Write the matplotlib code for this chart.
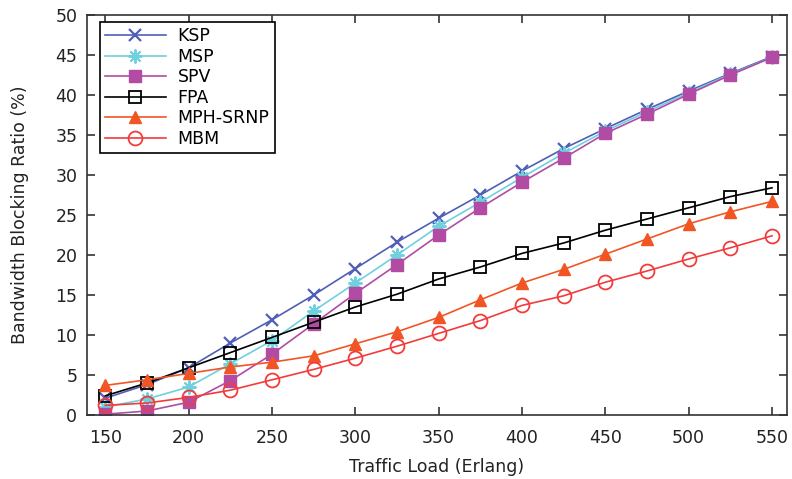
import numpy as np
import matplotlib
matplotlib.use("Agg")
import matplotlib.pyplot as plt

# traffic load (Erlang)
load = [150, 175, 200, 225, 250, 275, 300, 325, 350, 375, 400, 425, 450, 475, 500, 525, 550]

# bandwidth blocking ratio (%)
ksp = [2.1, 3.8, 5.9, 9.0, 11.9, 15.0, 18.3, 21.6, 24.6, 27.5, 30.5, 33.3, 35.8, 38.2, 40.5, 42.7, 44.8]
msp = [1.0, 2.0, 3.5, 6.4, 9.3, 13.0, 16.5, 20.0, 23.6, 26.6, 29.7, 32.7, 35.5, 37.9, 40.3, 42.6, 44.7]
spv = [0.1, 0.5, 1.6, 4.3, 7.6, 11.4, 15.2, 18.8, 22.5, 25.9, 29.1, 32.1, 35.2, 37.6, 40.1, 42.5, 44.7]
fpa = [2.4, 4.0, 5.9, 7.8, 9.7, 11.6, 13.5, 15.1, 17.0, 18.5, 20.2, 21.5, 23.1, 24.5, 25.9, 27.3, 28.4]
mph_srnp = [3.7, 4.4, 5.2, 6.0, 6.6, 7.4, 8.9, 10.4, 12.2, 14.4, 16.5, 18.2, 20.1, 22.0, 23.9, 25.4, 26.7]
mbm = [1.2, 1.5, 2.2, 3.1, 4.4, 5.7, 7.1, 8.6, 10.2, 11.8, 13.7, 14.9, 16.6, 18.0, 19.5, 20.9, 22.4]

xticks = [150, 200, 250, 300, 350, 400, 450, 500, 550]
yticks = [0, 5, 10, 15, 20, 25, 30, 35, 40, 45, 50]

plt.rcParams['font.family'] = 'DejaVu Sans'
fig = plt.figure(figsize=(7.92, 4.79), dpi=100)
ax = fig.add_axes([87 / 792, 64 / 479, 700 / 792, 400 / 479])

lw = 1.2
ax.plot(load, ksp, color='#4f5fb8', lw=lw, marker='x', ms=9, mew=1.6, label='KSP')
ax.plot(load, msp, color='#6fd0de', lw=lw, marker=(8, 2, 0), ms=10, mew=1.4, label='MSP')
ax.plot(load, spv, color='#b24ba3', lw=lw, marker='s', ms=9, mec='#b24ba3', label='SPV')
ax.plot(load, fpa, color='black', lw=lw, marker='s', ms=9, mfc='none', mew=1.3, label='FPA')
ax.plot(load, mph_srnp, color='#f25524', lw=lw, marker='^', ms=9, label='MPH-SRNP')
ax.plot(load, mbm, color='#f23c3c', lw=lw, marker='o', ms=10, mfc='none', mew=1.3, label='MBM')

ax.set_xlim(139, 559)
ax.set_ylim(0, 50)
ax.set_xticks(xticks)
ax.set_yticks(yticks)
ax.tick_params(direction='in', length=6, width=1.1, top=True, right=True,
               labelsize=12.5, colors='#222222')
ax.tick_params(axis='x', pad=10)
ax.tick_params(axis='y', pad=7)
for s in ax.spines.values():
    s.set_linewidth(1.2)
    s.set_color('#333333')

ax.set_xlabel('Traffic Load (Erlang)', fontsize=12.5, color='#222222', labelpad=8)
ax.set_ylabel('Bandwidth Blocking Ratio (%)', fontsize=12.5, color='#222222', labelpad=19)

leg = ax.legend(loc='upper left', bbox_to_anchor=(0.018, 0.983), fontsize=12.5,
                fancybox=False, framealpha=1, edgecolor='black', handlelength=3.5,
                handletextpad=0.7, labelspacing=0.15, borderpad=0.3, borderaxespad=0)
leg.get_frame().set_linewidth(1.2)

plt.savefig('out.png', dpi=100)
